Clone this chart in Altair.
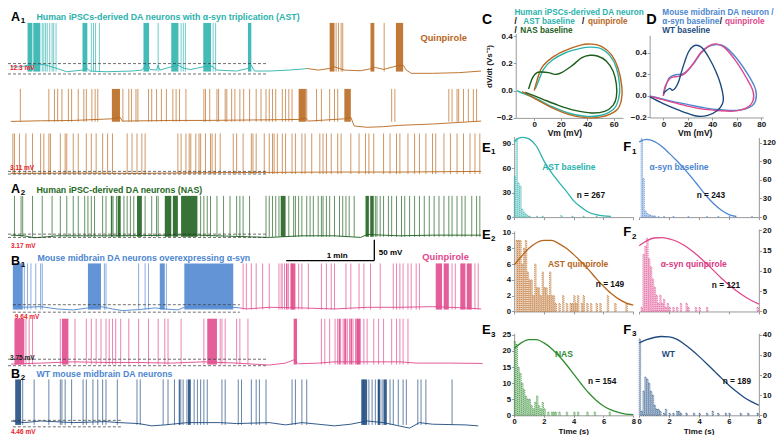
import altair as alt
import pandas as pd

# ======================= DATA =======================
PEAK = 40  # spike peak (mV)

# ---- A1 row 1: AST baseline (cyan) -> quinpirole (orange)
R1_C_BASE_T = [0, 6.9, 11.3, 22.4, 31.3, 38, 48.7, 52, 53.6, 64.7, 82.4, 89.1, 91.3, 93.1, 94.7, 99.1, 100.2, 101.3, 109.1, 113.6, 118, 122.4, 130.9, 136.9, 140.2, 153.6, 161.3, 163.6, 165.8, 175.8, 189.1, 198, 201.3]
R1_C_BASE_V = [-48.4, -48.4, -45.2, -43.8, -51.7, -58.3, -55, -51.7, -56.9, -58.3, -56.9, -55, -47.1, -41.9, -53.7, -55, -45.2, -55, -48.4, -45.2, -51.7, -53.7, -48.4, -47.1, -55, -56.9, -51.7, -45.2, -56.9, -56.9, -55, -53, -51.7]
R1_C_SPIKES = [21.3, 22.4, 23.6, 24.7, 26.4, 28.0, 29.1, 30.7, 54.7, 56.2, 57.6, 60.2, 100.2, 115.8, 117.3, 118.7, 137.6, 139.3]
R1_C_BURST_START = [11.3, 15.2, 48.7, 90.2, 109.1, 130.9, 161.3]
R1_C_BURST_END = [14.6, 20.0, 52.0, 94.0, 114.0, 136.2, 163.6]
R1_O_BASE_T = [201.3, 209.1, 216.9, 220.2, 226.9, 238, 244.7, 248, 253.6, 262, 266.9, 269.1, 272.4, 286.9, 304.7, 320]
R1_O_BASE_V = [-51.7, -55, -51.7, -48.4, -55, -56.3, -52.4, -49.7, -53.7, -47.1, -45.2, -55, -61.5, -61.5, -60.2, -56.9]
R1_O_SPIKES = [221.3, 222.9, 224.7, 225.8, 254.0]
R1_O_BURST_START = [216.9, 244.7, 262.0]
R1_O_BURST_END = [220.2, 247.3, 266.9]
R1_DASH_V = [-41.9, -62.8]

# ---- A1 row 2: quinpirole (orange)
R2_BASE_T = [0, 20.2, 42.4, 68.7, 74.2, 75.8, 109.1, 131.3, 153.6, 195.8, 200.7, 202.4, 226.9, 231.3, 233.6, 242.4, 253.6, 264.7, 286.9, 309.1, 320]
R2_BASE_V = [-56, -54.1, -53.1, -48.3, -43.5, -55, -53.1, -53.1, -52.2, -50.2, -46.4, -55, -48.3, -43.5, -69.4, -73.3, -71.4, -67.5, -63.7, -57.9, -55]
R2_SPIKES = [6.4, 25.8, 29.6, 31.8, 34.7, 39.1, 41.3, 45.8, 49.6, 51.3, 55.1, 57.3, 59.1, 76.2, 80.2, 82, 85.1, 86.4, 93.6, 95.8, 99.1, 102.4, 105.8, 110.2, 112.4, 114.7, 119.1, 131.3, 132.4, 135.3, 140.2, 141.3, 145.8, 146.9, 150.2, 152.4, 155.8, 158.4, 162.4, 166.9, 170.2, 173.6, 175.8, 178, 180.2, 184.7, 186.9, 189.1, 191.3, 201.3, 208, 211.3, 216.9, 220.2, 222.4, 259.1, 261.3, 298, 300.2, 303.6, 304.7, 308, 311.3, 314.7, 316.9]
R2_BURST_START = [68.7, 195.8, 226.9]
R2_BURST_END = [74.2, 200.7, 231.3]

# ---- A1 row 3: quinpirole (orange)
R3_BASE_T = [0, 42.4, 86.9, 131.3, 175.8, 220.2, 264.7, 320]
R3_BASE_V = [-57.2, -56.4, -57.2, -55.6, -54.8, -54, -54, -52.4]
R3_SPIKES = [1.3, 2.4, 5.8, 10.2, 14.7, 20.2, 22.4, 25.8, 26.9, 33.6, 36.9, 38, 42.4, 45.8, 51.3, 54.7, 58, 62.4, 65.8, 69.1, 79.1, 82.4, 85.8, 89.1, 91.3, 113.6, 115.8, 119.1, 121.3, 122.4, 125.8, 128, 129.1, 132.4, 135.8, 136.9, 139.1, 142.4, 151.3, 153.6, 158, 163.6, 164.7, 166.9, 172.4, 175.8, 178, 179.1, 181.3, 184.7, 186.9, 191.3, 193.6, 198, 200.2, 204.7, 210.2, 212.4, 214.7, 218, 222.4, 224.7, 231.3, 236.9, 241.3, 243.6, 246.9, 253.6, 258, 262.4, 264.7, 270.2, 274.7, 278, 282.4, 286.9, 289.1, 294.7, 299.1, 303.6, 308, 312.4, 315.8, 319.1]
R3_DASH_V = [-52.4, -58.8]

# ---- A2: NAS (dark green)
R4_BASE_T = [0, 9.1, 15.8, 22.4, 31.3, 64.7, 98, 120.2, 153.6, 175.8, 198, 220.2, 238, 242.4, 264.7, 286.9, 320]
R4_BASE_V = [-55, -56.6, -61.3, -59.7, -56.6, -56.6, -55.8, -54.2, -58.1, -60.5, -56.6, -56.6, -60.5, -53.4, -56.6, -55, -55]
R4_SPIKES = [2.4, 6.9, 8, 14.7, 21.3, 28, 33.6, 38, 42.4, 45.8, 50.2, 52.4, 54.7, 56.9, 62.4, 64.7, 69.5, 71.8, 76.9, 79.1, 81.3, 83.6, 91.3, 95.8, 99.1, 100.2, 129.1, 131.3, 133.6, 135.8, 140.2, 144.7, 149.1, 153.6, 155.8, 158, 162.4, 173.6, 175.8, 178, 180.2, 182.4, 189.1, 192.4, 193.6, 195.8, 198, 201.3, 203.6, 205.8, 209.1, 211.3, 212.4, 214.7, 216.9, 220.2, 223.6, 225.8, 228, 230.2, 233.6, 248, 249.1, 251.3, 253.6, 256.9, 259.1, 262.4, 265.8, 268, 271.3, 274.7, 278, 281.3, 284.7, 288, 291.3, 294.7, 298, 300.2, 303.6, 306.9, 309.1, 313.6, 316.9, 319.1]
R4_BURST_START = [68, 72.6, 85.8, 104.7, 110.2, 115.8, 183.6, 241.3, 244.5]
R4_BURST_END = [69, 74.7, 89.1, 109.1, 113.6, 126.9, 186.9, 243.6, 246.9]
R4_DASH_V = [-52.6, -60.5]
SCALEBAR_T = [187.3, 247.3]   # 1 min
SCALEBAR_V = [-116.4, -66.4]  # 50 mV

# ---- B1 row 1: alpha-syn baseline (blue) -> quinpirole (pink)
R5_B_BASE_T = [1.3, 9.1, 20.2, 31.3, 42.4, 52.4, 61.3, 69.1, 75.8, 86.9, 98, 104.7, 113.6, 118, 131.3, 151.3, 155.8]
R5_B_BASE_V = [-51.5, -55, -53.6, -58.6, -60.7, -56.4, -53.6, -58.6, -62.1, -60, -56.4, -58.6, -60.7, -55, -53.6, -55, -56.4]
R5_B_SPIKES = [9.1, 11.3, 13.6, 16.9, 20.2, 21.3, 63.6, 64.7, 86.9, 91.3, 93.6, 105.8]
R5_B_BURST_START = [1.3, 52.4, 101.3, 118]
R5_B_BURST_END = [8, 61.3, 104.7, 151.3]
R5_P_BASE_T = [155.8, 160.2, 175.8, 198, 220.2, 242.4, 264.7, 286.9, 309.1, 320]
R5_P_BASE_V = [-56.4, -58.6, -55, -56.4, -58.6, -55, -55, -53.6, -56.4, -58.6]
R5_P_SPIKES = [158, 160.2, 163.6, 166.9, 171.3, 175.8, 182.4, 184.6, 186.2, 188.8, 191.4, 195.8, 198, 202.4, 211.3, 214.7, 218, 220.2, 228, 231.3, 236.9, 240.2, 244.7, 251.3, 260.2, 262.4, 264.7, 266.9, 270.2, 272.4, 275.8, 278, 300.2, 302.4, 315.8, 318]
R5_P_BURST_START = [183.6, 187.2, 190.2, 289.1, 294.5, 305.8, 310.2]
R5_P_BURST_END = [184.0, 188.2, 193.6, 293.4, 298, 309.3, 313.6]
R5_DASH_V = [-49.4, -65.6]

# ---- B1 row 2: quinpirole (pink)
R6_BASE_T = [0, 20.2, 42.4, 64.7, 86.9, 109.1, 131.3, 153.6, 164.7, 175.8, 186.9, 192.4, 195.8, 209.1, 220.2, 242.4, 264.7, 275.8, 298, 321]
R6_BASE_V = [-57, -54.9, -52.2, -53.6, -53.6, -54.9, -52.2, -54.9, -57, -59.1, -54.9, -48, -56.3, -54.9, -52.2, -52.2, -52.2, -54.9, -54.9, -55.6]
R6_SPIKES = [10.2, 12.4, 14.7, 33.6, 43.6, 51.3, 54.7, 58, 61.3, 64.7, 66.9, 69.1, 71.3, 74.7, 80.2, 86.9, 93.6, 100.2, 104.7, 106.9, 115.8, 131.3, 142.4, 143.6, 145.8, 153.6, 155.8, 161.3, 211.3, 213.6, 216.9, 220.6, 222.3, 224.4, 226.1, 228.9, 230.4, 232.8, 234.5, 236.2, 240.2, 242.4, 246.9, 250.2, 253.6, 259.1, 262.4, 264.7, 266.9, 270.2]
R6_BURST_START = [2.4, 34.7, 133.6, 192.4, 223.0, 226.8, 231.0, 235.0]
R6_BURST_END = [9.1, 39.1, 140.2, 194.7, 224.0, 228.2, 232.2, 238.0]
R6_DASH_V = [-46.6, -60.5]

# ---- B2: WT (navy)
R7_BASE_T = [0, 9.1, 20.2, 42.4, 64.7, 73.6, 86.9, 95.8, 104.7, 120.2, 142.4, 153.6, 175.8, 186.9, 198, 209.1, 220.2, 231.3, 242.4, 253.6, 271.3, 278, 286.9, 309.1, 318]
R7_BASE_V = [-51.4, -55, -51.4, -55, -52.8, -55, -57.1, -62.1, -60, -55, -55, -57.1, -55, -60, -55, -58.5, -62.1, -58.5, -51.4, -55, -67.1, -55, -58.5, -60, -62.1]
R7_SPIKES = [8, 15.8, 25.8, 33.6, 34.7, 36.9, 41.3, 49.1, 51.3, 55.8, 59.1, 62.4, 64.7, 72.4, 85.8, 88, 103.6, 106.9, 111.3, 115.6, 117.2, 119.8, 124.7, 126.9, 129.1, 131.3, 133.6, 143.6, 145.8, 154.7, 156.9, 163.6, 166.9, 169.1, 173.6, 191.3, 193.6, 198, 201.3, 238.6, 240.1, 243.6, 245.8, 248, 250.2, 252.6, 258, 260.2, 263.6, 266.9, 269.1, 276.9, 279.1, 282.4, 300.2]
R7_BURST_START = [2.9, 114.2, 120.5, 238.9, 249.6, 253.5]
R7_BURST_END = [6.9, 115.0, 122.4, 242.4, 251.4, 255.8]
R7_DASH_V = [-50, -64.2]

# ---- C: phase plots (Vm mV, dV/dt V/s)
C_AST_VM = [0.75, 3.25, 7, 13.2, 23.2, 35.7, 43.2, 50.7, 57, 62, 64.5, 63.7, 60.2, 50.7, 38.2, 25.7, 13.2, 0.75, -9.25, -13]
C_AST_DV = [0.012, 0.072, 0.157, 0.222, 0.277, 0.313, 0.32, 0.308, 0.26, 0.169, 0.036, -0.06, -0.133, -0.181, -0.188, -0.164, -0.116, -0.055, -0.017, 0]
C_QUIN_VM = [0, 2, 5.7, 13.2, 23.2, 35.7, 43.2, 50.7, 58.2, 63.2, 66.2, 65.7, 62, 50.7, 38.2, 25.7, 13.2, 0.75, -9.25]
C_QUIN_DV = [0, 0.072, 0.169, 0.241, 0.294, 0.337, 0.342, 0.325, 0.265, 0.169, 0.024, -0.072, -0.145, -0.193, -0.198, -0.174, -0.125, -0.06, -0.007]
C_NAS_VM = [-4.3, -1.25, 2, 5.7, 10.7, 15.7, 20.7, 28.2, 35.7, 42, 48.2, 54.5, 59.5, 62, 62, 59.5, 53.2, 43.2, 30.7, 18.2, 5.7, -6.75]
C_NAS_DV = [0.012, 0.096, 0.133, 0.137, 0.133, 0.12, 0.133, 0.181, 0.241, 0.26, 0.253, 0.217, 0.145, 0.048, -0.048, -0.108, -0.152, -0.164, -0.145, -0.108, -0.06, -0.012]
# ---- D
D_SYN_VM = [0, 1.6, 4.7, 10, 15.3, 20.5, 25.8, 31, 37.6, 44.2, 50.8, 60, 69.2, 75.3, 75.3, 70.5, 60, 46.8, 33.7, 20.5, 7.4, -5.8, -11]
D_SYN_DV = [0, 0.075, 0.165, 0.195, 0.2, 0.24, 0.315, 0.399, 0.459, 0.474, 0.45, 0.345, 0.195, 0.06, -0.045, -0.105, -0.135, -0.129, -0.111, -0.081, -0.051, -0.015, 0]
D_QUIN_VM = [0, 1.6, 6, 12.6, 17.9, 24.5, 31, 37.6, 42.9, 49.5, 58.7, 67.9, 73.2, 73.2, 67.9, 57.4, 44.2, 31, 17.9, 4.7, -7, -11]
D_QUIN_DV = [0, 0.09, 0.165, 0.18, 0.21, 0.3, 0.405, 0.465, 0.48, 0.45, 0.33, 0.165, 0.045, -0.045, -0.111, -0.141, -0.135, -0.12, -0.09, -0.051, -0.015, -0.006]
D_WT_VM = [0, 2.1, 5.3, 7.4, 10, 12.6, 14.5, 17, 20.5, 24.5, 28.4, 32.4, 37.6, 42.9, 46.8, 49, 48.2, 44.2, 36.3, 28.4, 20.5, 10, -0.5, -11]
D_WT_DV = [0.02, 0.045, 0.069, 0.051, 0.075, 0.135, 0.21, 0.3, 0.405, 0.459, 0.465, 0.435, 0.345, 0.225, 0.105, -0.015, -0.075, -0.135, -0.18, -0.189, -0.165, -0.12, -0.069, -0.009]

# ---- E/F: inter-spike interval histograms (bin start s, count) and fitted curves
BIN_W = 0.125
E1_BINS = [0, 0.125, 0.25, 0.375, 0.5, 0.625, 0.75, 0.875, 1.0, 1.5, 1.875, 3.125, 3.875, 4.625, 5.5]
E1_COUNTS = [50, 96, 42, 38, 10, 6, 4, 2, 1, 1, 1, 2, 1, 1, 1]
E1_FIT_T = [0, 0.3, 0.6, 1.0, 1.5, 2.0, 2.5, 3.0, 3.5, 4.0, 4.5, 5.0, 5.5, 6.0, 6.5]
E1_FIT_V = [92, 97, 98, 96, 87, 69, 55, 43, 32, 20, 12, 6, 3, 1.5, 1]
F1_BINS = [0.125, 0.25, 0.375, 0.5, 0.625, 0.75, 0.875, 1.0, 1.25, 1.625, 2.25, 3.25, 4.5, 5.25, 6.0, 7.5]
F1_COUNTS = [126, 62, 10, 6, 4, 3, 2, 2, 1, 1, 1, 1, 1, 1, 1, 1]
F1_FIT_T = [0, 0.5, 1, 1.5, 2, 2.5, 3, 3.5, 4, 4.5, 5, 5.5, 6, 6.5]
F1_FIT_V = [121, 125, 122, 114, 103, 91, 78, 64, 49, 34, 21, 11, 4, 1]
E2_BINS = [0.125, 0.25, 0.375, 0.5, 0.625, 0.75, 0.875, 1.0, 1.125, 1.25, 1.375, 1.5, 1.625, 1.75, 1.875, 2.0, 2.125, 2.25, 2.375, 2.5, 2.625, 2.75, 3.0, 3.25, 3.5, 3.75, 3.875, 4.0, 4.125, 4.25, 4.5, 4.625, 4.875, 5.125, 5.5, 5.75, 6.25, 6.75, 7.5]
E2_COUNTS = [9, 9, 9, 6, 8, 9, 5, 4, 4, 2, 6, 3, 3, 2, 5, 3, 3, 2, 5, 2, 2, 1, 1, 2, 1, 1, 1, 2, 1, 2, 1, 2, 1, 1, 1, 1, 2, 1, 1]
E2_FIT_T = [0, 0.5, 1.0, 1.5, 2.0, 2.5, 3.0, 3.5, 4.0, 4.5, 5.0, 5.5, 6.0, 6.5, 7.0, 7.5, 8.0]
E2_FIT_V = [5.9, 7.0, 8.0, 8.7, 9.0, 9.0, 8.6, 8.0, 7.2, 6.3, 5.3, 4.2, 3.2, 2.3, 1.6, 1.1, 0.8]
F2_BINS = [0.125, 0.25, 0.375, 0.5, 0.625, 0.75, 0.875, 1.0, 1.125, 1.25, 1.375, 1.5, 1.625, 1.75, 1.875, 2.0, 2.25, 2.5, 2.75, 3.125, 3.25, 3.75, 4.0, 4.5, 7.875]
F2_COUNTS = [1, 14, 16, 18, 13, 11, 8, 6, 4, 2, 4, 2, 3, 1, 2, 1, 1, 1, 2, 2, 1, 1, 1, 1, 1]
F2_FIT_T = [0, 0.5, 1.0, 1.5, 2.0, 2.5, 3.0, 3.5, 4.0, 4.5, 5.0, 5.5, 6.0, 6.5, 7.0, 7.5, 8.0]
F2_FIT_V = [16.2, 17.4, 18.1, 18.2, 17.9, 17.3, 16.3, 15.0, 13.5, 11.8, 10.0, 8.2, 6.6, 5.1, 3.8, 2.7, 1.8]
E3_BINS = [0, 0.125, 0.25, 0.375, 0.5, 0.625, 0.75, 0.875, 1.0, 1.125, 1.25, 1.375, 1.5, 1.625, 1.75, 1.875, 2.0, 2.25, 2.5, 2.625, 2.75, 3.0, 3.5, 4.0, 4.25, 4.875, 5.375, 6.375]
E3_COUNTS = [23, 22, 15, 13, 10, 8, 6, 5, 5, 3, 2, 4, 6, 3, 2, 4, 2, 1, 1, 1, 1, 1, 1, 1, 1, 1, 1, 1]
E3_FIT_T = [0, 0.5, 1.0, 1.5, 2.0, 2.5, 3.0, 3.5, 4.0, 4.5, 5.0, 5.5, 6.0, 6.5, 7.0, 7.5, 8.0]
E3_FIT_V = [20.8, 22.6, 23.5, 23.5, 22.5, 20.8, 18.5, 15.8, 12.8, 9.8, 7.0, 4.7, 2.9, 1.7, 0.9, 0.4, 0.2]
F3_BINS = [0, 0.125, 0.25, 0.375, 0.5, 0.625, 0.75, 0.875, 1.0, 1.125, 1.25, 1.375, 1.625, 1.75, 2.0, 2.25, 2.5, 2.625, 2.75, 3.125, 3.625, 4.0, 4.5, 4.875, 5.25, 5.75, 6.0, 6.75, 7.25, 7.875]
F3_COUNTS = [38, 2, 12, 19, 18, 16, 12, 10, 5, 3, 3, 2, 1, 3, 1, 1, 2, 2, 1, 1, 1, 1, 1, 2, 1, 1, 1, 1, 1, 1]
F3_FIT_T = [0, 0.5, 1.0, 1.5, 2.0, 2.5, 3.0, 3.5, 4.0, 4.5, 5.0, 5.5, 6.0, 6.5, 7.0, 7.5, 8.0]
F3_FIT_V = [36, 37.6, 38.7, 39.2, 39.0, 37.9, 35.5, 32.6, 29.3, 25.8, 22.2, 18.5, 15.0, 11.8, 9.0, 6.8, 5.0]

# ======================= STYLE / LAYOUT =======================
W, H = 768, 427
FONT = "Liberation Sans"
CYAN, ORANGE, DKGREEN, GREEN = "#2bb2ad", "#b8661c", "#1b5e1b", "#2f8c2f"
BLUE, PINK, NAVY, RED = "#4d86d0", "#e0488c", "#1d4a7e", "#e8202a"


def px(x):
    return x * W / 784.0


def py(y):
    return (y - 3.0) * H / 438.0


DUMMY = pd.DataFrame({"k": [0]})
layers = []


def txt(s, x, y, color="#000", size=9, align="left", baseline="middle", angle=0):
    kw = dict(align=align, baseline=baseline, font=FONT, fontSize=size, fontWeight="bold", color=color)
    if angle:
        kw["angle"] = angle
    layers.append(alt.Chart(DUMMY).mark_text(**kw).encode(
        x=alt.value(px(x)), y=alt.value(py(y)), text=alt.value(s)))


# ---------- traces ----------
def tx():
    return alt.Scale(domain=[0, 320], range=[px(3), px(483)], nice=False, zero=False)


def ty(geom):
    yp, yb = geom
    g = (yb - yp) / 95.0
    return alt.Scale(domain=[-120, 40], range=[py(yp + 160 * g), py(yp)], nice=False, zero=False)


def trace(geom, color, bt, bv, spikes, bs, be, lo):
    xs, ys = tx(), ty(geom)
    layers.append(alt.Chart(pd.DataFrame({"t": bt, "v": bv})).mark_line(color=color, strokeWidth=0.9).encode(
        x=alt.X("t:Q", scale=xs, axis=None), y=alt.Y("v:Q", scale=ys, axis=None)))
    if spikes:
        layers.append(alt.Chart(pd.DataFrame({"t": spikes, "lo": lo, "hi": PEAK})).mark_rule(
            color=color, strokeWidth=0.85, opacity=0.8).encode(
            x=alt.X("t:Q", scale=xs, axis=None), y=alt.Y("lo:Q", scale=ys, axis=None), y2="hi:Q"))
    if bs:
        layers.append(alt.Chart(pd.DataFrame({"s": bs, "e": be, "lo": lo, "hi": PEAK})).mark_rect(
            color=color, opacity=0.88).encode(
            x=alt.X("s:Q", scale=xs, axis=None), x2="e:Q", y=alt.Y("lo:Q", scale=ys, axis=None), y2="hi:Q"))


def dashes(geom, t0, t1, vals):
    df = pd.DataFrame({"a": t0, "b": t1, "v": vals})
    layers.append(alt.Chart(df).mark_rule(color="#333", strokeWidth=0.7, strokeDash=[3, 2]).encode(
        x=alt.X("a:Q", scale=tx(), axis=None), x2="b:Q", y=alt.Y("v:Q", scale=ty(geom), axis=None)))


G1, G2, G3, G4 = (18.3, 66.7), (86, 119), (131.7, 171.7), (195.7, 236)
G5, G6, G7 = (265, 310), (321.7, 367.3), (384, 428.3)

trace(G1, CYAN, R1_C_BASE_T, R1_C_BASE_V, R1_C_SPIKES, R1_C_BURST_START, R1_C_BURST_END, -58)
trace(G1, ORANGE, R1_O_BASE_T, R1_O_BASE_V, R1_O_SPIKES, R1_O_BURST_START, R1_O_BURST_END, -58)
dashes(G1, -2, 174.7, R1_DASH_V)
trace(G2, ORANGE, R2_BASE_T, R2_BASE_V, R2_SPIKES, R2_BURST_START, R2_BURST_END, -57)
trace(G3, ORANGE, R3_BASE_T, R3_BASE_V, R3_SPIKES, [], [], -59)
dashes(G3, -2, 174.7, R3_DASH_V)
trace(G4, DKGREEN, R4_BASE_T, R4_BASE_V, R4_SPIKES, R4_BURST_START, R4_BURST_END, -59)
dashes(G4, -2, 174.7, R4_DASH_V)
trace(G5, BLUE, R5_B_BASE_T, R5_B_BASE_V, R5_B_SPIKES, R5_B_BURST_START, R5_B_BURST_END, -60)
trace(G5, PINK, R5_P_BASE_T, R5_P_BASE_V, R5_P_SPIKES, R5_P_BURST_START, R5_P_BURST_END, -60)
dashes(G5, 1.3, 155.8, R5_DASH_V)
trace(G6, PINK, R6_BASE_T, R6_BASE_V, R6_SPIKES, R6_BURST_START, R6_BURST_END, -58)
dashes(G6, -2, 174.7, R6_DASH_V)
trace(G7, NAVY, R7_BASE_T, R7_BASE_V, R7_SPIKES, R7_BURST_START, R7_BURST_END, -60)
dashes(G7, 1.3, 75.8, R7_DASH_V)

# scale bar (drawn through the A2 row scales)
layers.append(alt.Chart(pd.DataFrame({"a": [SCALEBAR_T[0]], "b": [SCALEBAR_T[1]], "v": [SCALEBAR_V[0]]})).mark_rule(
    color="#000", strokeWidth=1.3).encode(
    x=alt.X("a:Q", scale=tx(), axis=None), x2="b:Q", y=alt.Y("v:Q", scale=ty(G4), axis=None)))
layers.append(alt.Chart(pd.DataFrame({"t": [SCALEBAR_T[1]], "v0": [SCALEBAR_V[0]], "v1": [SCALEBAR_V[1]]})).mark_rule(
    color="#000", strokeWidth=1.3).encode(
    x=alt.X("t:Q", scale=tx(), axis=None), y=alt.Y("v0:Q", scale=ty(G4), axis=None), y2="v1:Q"))


# ---------- axes helpers ----------
def ax_common(size=8):
    return dict(grid=False, tickSize=2.5, labelFontSize=size, labelFont=FONT, labelFontWeight="bold",
                labelColor="#111", domainColor="#999", tickColor="#999", labelPadding=0.5,
                labelFlush=False, labelOverlap=False, title=None)


def xaxis(yref, values, labels=True, size=8, tick=2.5, pad=0.5):
    kw = ax_common(size)
    kw.update(orient="bottom", offset=py(yref) - H, values=values, labels=labels,
              tickSize=tick, labelPadding=pad)
    return alt.Axis(**kw)


def yaxis(xref, values, orient="left", fmt=None, size=8):
    kw = ax_common(size)
    kw.update(orient=orient, values=values, labelPadding=1)
    kw["offset"] = -px(xref) if orient == "left" else px(xref) - W
    if fmt:
        kw["format"] = fmt
    return alt.Axis(**kw)


# ---------- phase plots ----------
def phase(xs, ys, vm, dv, color, axx=None, axy=None):
    df = pd.DataFrame({"vm": vm, "dv": dv, "i": list(range(len(vm)))})
    layers.append(alt.Chart(df).mark_line(color=color, strokeWidth=1.4, interpolate="cardinal").encode(
        x=alt.X("vm:Q", scale=xs, axis=axx), y=alt.Y("dv:Q", scale=ys, axis=axy), order="i:Q"))


def c_x():
    return alt.Scale(domain=[-14, 67], range=[px(518.3), px(627.8)], nice=False, zero=False)


def c_y():
    return alt.Scale(domain=[-0.2, 0.42], range=[py(115.7), py(115.7 - 0.62 * 139.5)], nice=False, zero=False)


def d_x():
    return alt.Scale(domain=[-11.2, 81.6], range=[px(655), px(771)], nice=False, zero=False)


def d_y():
    return alt.Scale(domain=[-0.2, 0.56], range=[py(115.3), py(115.3 - 0.76 * 111)], nice=False, zero=False)


phase(c_x(), c_y(), C_AST_VM, C_AST_DV, CYAN,
      xaxis(115.7, [0, 20, 40, 60]), yaxis(518.3, [-0.2, 0, 0.2, 0.4], fmt=".1f"))
phase(c_x(), c_y(), C_QUIN_VM, C_QUIN_DV, ORANGE)
phase(c_x(), c_y(), C_NAS_VM, C_NAS_DV, DKGREEN)
phase(d_x(), d_y(), D_SYN_VM, D_SYN_DV, BLUE,
      xaxis(115.3, [0, 20, 40, 60, 80]), yaxis(655, [-0.2, 0, 0.2, 0.4], fmt=".1f"))
phase(d_x(), d_y(), D_QUIN_VM, D_QUIN_DV, PINK)
phase(d_x(), d_y(), D_WT_VM, D_WT_DV, NAVY)


# ---------- histograms ----------
def hist(bins, counts, ft, fv, color, xr, y0, top, gain, yvals, side, xlab):
    xs = alt.Scale(domain=[0, 8], range=[px(xr[0]), px(xr[1])], nice=False, zero=False)
    ys = alt.Scale(domain=[0, top], range=[py(y0), py(y0 - top * gain)], nice=False, zero=False)
    if xlab:
        axx = xaxis(y0, [0, 2, 4, 6, 8], labels=True, size=7.6, tick=2, pad=0)
    else:
        axx = xaxis(y0, [0, 2, 4, 6, 8], labels=False)
    axy = yaxis(xr[0] if side == "left" else xr[1], yvals, orient=side, size=7.8)
    df = pd.DataFrame({"b": bins, "b2": [b + BIN_W * 0.8 for b in bins], "c": counts})
    layers.append(alt.Chart(df).mark_rect(fill=color, fillOpacity=0.28, stroke=color, strokeWidth=0.7,
                                          strokeDash=[1, 1]).encode(
        x=alt.X("b:Q", scale=xs, axis=axx), x2="b2:Q",
        y=alt.Y("c:Q", scale=ys, axis=axy), y2=alt.datum(0)))
    layers.append(alt.Chart(pd.DataFrame({"t": ft, "v": fv})).mark_line(
        color=color, strokeWidth=1.3, interpolate="monotone").encode(
        x=alt.X("t:Q", scale=xs, axis=None), y=alt.Y("v:Q", scale=ys, axis=None)))


EX, FX = (516.7, 638.3), (644.3, 766.5)
hist(E1_BINS, E1_COUNTS, E1_FIT_T, E1_FIT_V, CYAN, EX, 217.5, 99, 75.2 / 90, [0, 30, 60, 90], "left", False)
hist(F1_BINS, F1_COUNTS, F1_FIT_T, F1_FIT_V, BLUE, FX, 217.5, 128, 76.5 / 120, [0, 30, 60, 90, 120], "right", False)
hist(E2_BINS, E2_COUNTS, E2_FIT_T, E2_FIT_V, ORANGE, EX, 314.3, 10.2, 81.0 / 10, [0, 2, 4, 6, 8, 10], "left", False)
hist(F2_BINS, F2_COUNTS, F2_FIT_T, F2_FIT_V, PINK, FX, 314.3, 20.3, 83.3 / 20, [0, 5, 10, 15, 20], "right", False)
hist(E3_BINS, E3_COUNTS, E3_FIT_T, E3_FIT_V, GREEN, EX, 420.8, 25.5, 82.5 / 25, [0, 5, 10, 15, 20, 25], "left", True)
hist(F3_BINS, F3_COUNTS, F3_FIT_T, F3_FIT_V, NAVY, FX, 420.8, 40.8, 82.5 / 40, [0, 10, 20, 30, 40], "right", True)

# ---------- texts ----------
# panel letters
for letter, sub, x, yb in [("A", "1", 3, 16.3), ("A", "2", 3, 192.5), ("B", "1", 3, 267), ("B", "2", 3, 383)]:
    txt(letter, x, yb, size=12.5, baseline="alphabetic")
    txt(sub, x + 10, yb + 2, size=8, baseline="alphabetic")
for letter, sub, x, yb in [("E", "1", 484, 150.5), ("E", "2", 484, 240), ("E", "3", 484, 337.5),
                           ("F", "1", 628, 150), ("F", "2", 628, 237), ("F", "3", 628, 337)]:
    txt(letter, x, yb, size=13, baseline="alphabetic")
    txt(sub, x + 9, yb + 2.5, size=8, baseline="alphabetic")
txt("C", 484, 19, size=14, baseline="alphabetic")
txt("D", 651.5, 19.5, size=14.5, baseline="alphabetic")

# trace titles and labels
txt("Human iPSCs-derived DA neurons with \u03b1-syn triplication (AST)", 29, 12.3, CYAN, 8.8)
txt("Quinpirole", 421, 33.5, ORANGE, 9.3)
txt("12.3 mV", 2, 65, RED, 6.5)
txt("3.11 mV", 2, 167.3, RED, 6.5)
txt("Human iPSC-derived DA neurons (NAS)", 29, 189.3, "#1e6a1e", 8.8)
txt("3.17 mV", 3, 247, RED, 6.5)
txt("1 min", 336, 257.5, "#000", 8, align="center")
txt("50 mV", 378.5, 254, "#000", 8)
txt("Mouse midbrain DA neurons overexpressing \u03b1-syn", 30, 259.5, BLUE, 8.8)
txt("Quinpirole", 423, 258.7, PINK, 9.3)
txt("9.64 mV", 7, 320, RED, 6.5)
txt("3.75 mV", 2, 361.7, "#222", 6.5)
txt("WT mouse midbrain DA neurons", 29, 378.5, BLUE, 8.8)
txt("4.46 mV", 3, 437.5, RED, 6.5)

# phase plot titles
txt("Human iPSCs-derived DA neuron", 517, 8.2, CYAN, 8.2)
txt("/", 517, 17.2, "#000", 8.2)
txt("AST baseline", 526, 17.2, CYAN, 8.2)
txt("/", 586, 17.2, "#000", 8.2)
txt("quinpirole", 592, 17.2, ORANGE, 8.2)
txt("/", 517, 26.2, "#000", 8.2)
txt("NAS baseline", 523, 26.2, DKGREEN, 8.2)
txt("Mouse midbrain DA neuron /", 668, 8.2, BLUE, 8.2)
txt("\u03b1-syn baseline", 668, 17.2, BLUE, 8.2)
txt("/", 726.5, 17.2, "#000", 8.2)
txt("quinpirole", 732, 17.2, PINK, 8.2)
txt("WT baseline", 668, 26.6, NAVY, 8.2)
txt("dV/dt (Vs\u207b\u00b9)", 492, 63, "#111", 8, align="center", angle=270)
txt("Vm (mV)", 568.5, 131.6, "#111", 8.5, align="center")
txt("Vm (mV)", 701.5, 131.6, "#111", 8.5, align="center")
txt("Time (s)", 577.5, 437.6, "#111", 8, align="center")
txt("Time (s)", 705.5, 437.6, "#111", 8, align="center")

# histogram annotations
txt("AST baseline", 572.5, 166, CYAN, 8.5, align="center")
txt("n = 267", 595, 196, "#111", 8.3, align="center")
txt("\u03b1-syn baseline", 685, 166, BLUE, 8.5, align="center")
txt("n = 243", 717.5, 196, "#111", 8.3, align="center")
txt("AST quinpirole", 582, 266, ORANGE, 8.5, align="center")
txt("n = 149", 614.5, 287.5, "#111", 8.3, align="center")
txt("\u03b1-syn quinpirole", 700, 266, "#d9397f", 8.5, align="center")
txt("n = 121", 733, 288, "#111", 8.3, align="center")
txt("NAS", 567.5, 358, GREEN, 8.5, align="center")
txt("n = 154", 606.5, 387, "#111", 8.3, align="center")
txt("WT", 674, 358, NAVY, 8.5, align="center")
txt("n = 189", 744, 387, "#111", 8.3, align="center")

chart = alt.layer(*layers).properties(
    width=W, height=H, autosize=alt.AutoSizeParams(type="none"), padding=0
).resolve_scale(x="independent", y="independent").configure_view(stroke=None)

chart.save("out.html", embed_options={"renderer": "svg", "actions": False})
